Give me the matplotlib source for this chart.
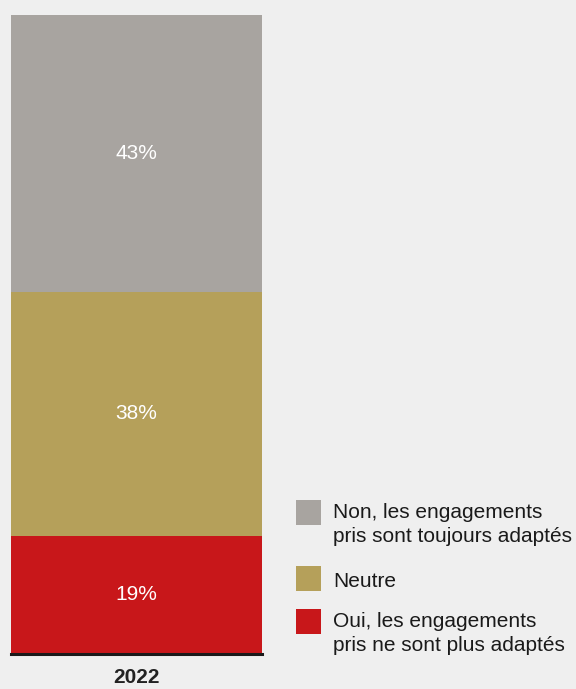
import matplotlib.pyplot as plt
from matplotlib.patches import Rectangle

plt.rcParams['font.family'] = ['Liberation Sans', 'DejaVu Sans']

# Daten
annee = ["2022"]
categories = ["Oui, les engagements\npris ne sont plus adaptés",
              "Neutre",
              "Non, les engagements\npris sont toujours adaptés"]
valeurs = [18.5, 38.2, 43.3]
etiquettes = ["19%", "38%", "43%"]
couleurs = ["#c8171a", "#b5a05a", "#a8a4a0"]

fond = "#efefef"
fig = plt.figure(figsize=(5.76, 6.89), dpi=100, facecolor=fond)
ax = fig.add_axes([11 / 576, 35 / 689, 251 / 576, 639 / 689])
ax.set_facecolor(fond)

bas = 0
for v, e, c in zip(valeurs, etiquettes, couleurs):
    ax.bar(annee, [v], bottom=bas, width=1.0, color=c, linewidth=0)
    ax.text(0, bas + v / 2, e, ha="center", va="center",
            color="white", fontsize=15)
    bas += v

ax.set_xlim(-0.5, 0.5)
ax.set_ylim(0, sum(valeurs))
for s in ["top", "left", "right"]:
    ax.spines[s].set_visible(False)
ax.spines["bottom"].set_color("#1a1a1a")
ax.spines["bottom"].set_linewidth(2.2)
ax.set_yticks([])
ax.tick_params(axis="x", length=0, pad=10)
for lab in ax.get_xticklabels():
    lab.set_fontweight("bold")
    lab.set_fontsize(15)
    lab.set_color("#222222")

# Legende (ordre inverse) - baseline de la derniere ligne
hauts = [500, 566, 609]
bases = [542, 587, 651]
for cat, c, y, b in zip(categories[::-1], couleurs[::-1], hauts, bases):
    fig.patches.append(Rectangle((296 / 576, 1 - (y + 25) / 689), 25 / 576, 25 / 689,
                                 transform=fig.transFigure, color=c, linewidth=0))
    fig.text(333 / 576, 1 - b / 689, cat, ha="left", va="baseline",
             fontsize=15, color="#1a1a1a", linespacing=1.35)

fig.savefig("out.png", dpi=100, facecolor=fond)
